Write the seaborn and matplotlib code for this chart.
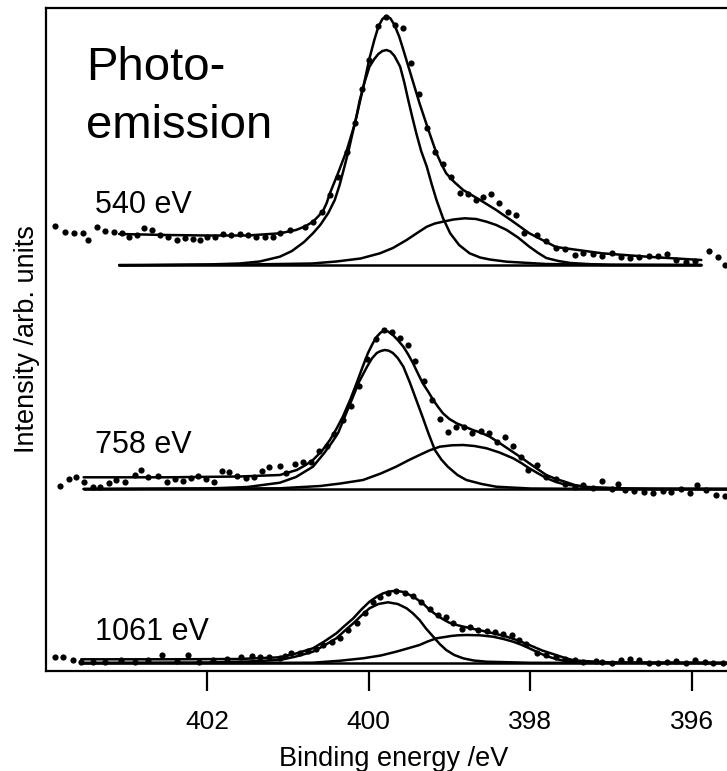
import matplotlib
matplotlib.use("Agg")
import matplotlib.pyplot as plt
import seaborn as sns

sns.set_style("white")
plt.rcParams['font.family'] = ['Liberation Sans', 'DejaVu Sans']
plt.rcParams['text.color'] = 'black'
plt.rcParams['axes.labelcolor'] = 'black'
plt.rcParams['xtick.color'] = 'black'

# ---------------- data (binding energy / eV, intensity / arb. units) -------------
tick_values = [402, 400, 398, 396]
tick_labels = ["402", "400", "398", "396"]
spectrum_labels = ["540 eV", "758 eV", "1061 eV"]

# --- 540 eV ---
top_dots_E = [403.88, 403.76, 403.65, 403.54, 403.48, 403.36, 403.26, 403.16, 403.06, 402.97,
              402.87, 402.78, 402.68, 402.59, 402.49, 402.38, 402.28, 402.18, 402.09, 402.00,
              401.90, 401.80, 401.70, 401.59, 401.50, 401.40, 401.29, 401.19, 401.10, 400.98,
              400.79, 400.69, 400.58, 400.48, 400.38, 400.27, 400.17, 400.08, 399.99, 399.88,
              399.78, 399.68, 399.57, 399.47, 399.38, 399.28, 399.18, 399.08, 398.98, 398.87,
              398.77, 398.67, 398.58, 398.48, 398.38, 398.27, 398.17, 398.07, 397.91, 397.80,
              397.68, 397.57, 397.45, 397.34, 397.22, 397.11, 396.99, 396.88, 396.76, 396.65,
              396.53, 396.42, 396.30, 396.19, 396.07, 395.96, 395.79, 395.67, 395.59]
top_dots_I = [445, 439.3, 438.3, 437.7, 431, 444.3, 440.3, 438.7, 437.7, 433.7,
              435.7, 442.7, 441, 436, 433.7, 431, 432.7, 431.7, 431, 433.7,
              434.3, 437, 436, 436.7, 436, 434.3, 433.7, 433.7, 437.7, 441,
              444.3, 449.3, 459.3, 476, 494.3, 519.3, 547.7, 581.7, 611, 645,
              654.3, 646, 642.7, 608.3, 576.7, 542.7, 519.3, 507, 494.3, 478.3,
              476.7, 471, 474.3, 477, 467.7, 459.3, 456, 437.7, 436, 430.3,
              422.7, 421.7, 416, 417.7, 417, 415, 418.3, 414.3, 412.7, 414.3,
              415, 415, 417, 411, 409.3, 410.3, 420.3, 414.3, 406]
top_env_E = [403.09, 402.5, 402.0, 401.5, 401.1, 400.9, 400.79, 400.69, 400.62, 400.56,
             400.52, 400.48, 400.38, 400.27, 400.17, 400.07, 399.99, 399.93, 399.88, 399.83,
             399.78, 399.73, 399.68, 399.62, 399.57, 399.47, 399.37, 399.26, 399.16, 399.10,
             399.04, 398.94, 398.83, 398.62, 398.42, 398.21, 398.01, 397.68, 397.11, 396.5,
             395.88]
top_env_I = [437, 436, 435.5, 435.5, 437.7, 441, 444.5, 449.3, 455, 461,
             468, 477.7, 497.7, 521, 547.7, 582.7, 612.7, 631, 644.3, 652,
             655, 652.5, 646, 634, 621, 594.3, 567.7, 541, 517.7, 507,
             497.7, 489, 481, 471, 461, 449.3, 437.7, 424, 417.7, 414,
             411]
top_main_E = [403.09, 402.5, 402.0, 401.6, 401.35, 401.10, 400.95, 400.80, 400.69, 400.60,
              400.50, 400.42, 400.36, 400.30, 400.25, 400.20, 400.15, 400.11, 400.05, 399.99,
              399.93, 399.88, 399.83, 399.78, 399.73, 399.68, 399.61, 399.56, 399.51, 399.46,
              399.41, 399.35, 399.28, 399.22, 399.16, 399.08, 398.99, 398.88, 398.75, 398.62,
              398.50, 398.29, 397.8, 397.0, 395.88]
top_main_I = [405.5, 406, 406.5, 407.5, 409.5, 414.3, 420, 429, 437.7, 446,
              458, 471, 486, 504.3, 520, 537.7, 555, 571, 589, 604.3,
              612, 617, 620, 621, 619.5, 615, 604.3, 589, 571, 554,
              537.7, 520, 504.3, 487, 471, 453, 437.7, 426, 417.7, 413.5,
              411.5, 409.3, 407, 406, 406]
top_sec_E = [403.09, 401.5, 400.7, 400.4, 400.1, 399.86, 399.7, 399.53, 399.4, 399.28,
             399.18, 399.08, 398.95, 398.81, 398.67, 398.54, 398.42, 398.29, 398.15, 398.01,
             397.9, 397.8, 397.65, 397.5, 397.25, 397.0, 395.88]
top_sec_I = [406, 406.5, 407.5, 409.5, 412.5, 417.7, 423, 431, 438, 444.3,
             447.5, 449.3, 451.5, 452.7, 452, 449.3, 446, 441, 433.5, 424.3,
             418, 413, 410, 408, 406.8, 406.3, 406]
top_base_E = [403.09, 395.88]
top_base_I = [406, 406]

# --- 758 eV ---
mid_dots_E = [403.82, 403.71, 403.62, 403.53, 403.42, 403.33, 403.22, 403.13, 403.02, 402.90,
              402.82, 402.73, 402.61, 402.50, 402.40, 402.30, 402.20, 402.11, 402.01, 401.91,
              401.82, 401.73, 401.63, 401.52, 401.42, 401.32, 401.23, 401.10, 401.02, 400.91,
              400.81, 400.71, 400.61, 400.52, 400.43, 400.32, 400.22, 400.12, 400.02, 399.91,
              399.81, 399.71, 399.61, 399.51, 399.42, 399.32, 399.21, 399.12, 399.02, 398.92,
              398.82, 398.72, 398.61, 398.51, 398.41, 398.31, 398.21, 398.11, 398.03, 397.91,
              397.80, 397.68, 397.57, 397.45, 397.34, 397.22, 397.11, 396.99, 396.91, 396.82,
              396.71, 396.59, 396.48, 396.36, 396.25, 396.13, 396.02, 395.93, 395.82, 395.70,
              395.59]
mid_dots_I = [185, 191.7, 193.7, 189.3, 183.7, 183.7, 188.3, 191, 189.3, 196,
              201, 194.3, 195, 189.3, 191.7, 190.3, 192.7, 195, 191.7, 189.3,
              200.3, 199.3, 195, 192.7, 194.3, 200.3, 204.3, 205.3, 198.3, 206.7,
              208.7, 208.7, 220.3, 225, 237, 251, 265, 285, 311.7, 331.7,
              341, 338.7, 332.7, 326, 310, 290, 271, 252, 239.3, 244.3,
              243.7, 237.7, 240.3, 238.3, 229.3, 234.3, 225.3, 214.3, 201, 206,
              193.7, 191.7, 187, 183.7, 186, 182.7, 190, 181.7, 187, 181,
              180.3, 179, 177.7, 180.3, 179, 181.7, 177.7, 186, 181, 176,
              175]
mid_env_E = [403.53, 402.5, 401.6, 401.1, 400.89, 400.79, 400.69, 400.58, 400.48, 400.40,
             400.32, 400.23, 400.15, 400.08, 400.01, 399.95, 399.90, 399.85, 399.81, 399.76,
             399.70, 399.64, 399.57, 399.51, 399.45, 399.39, 399.33, 399.26, 399.20, 399.14,
             399.08, 399.00, 398.91, 398.81, 398.71, 398.60, 398.50, 398.38, 398.25, 398.13,
             398.01, 397.90, 397.80, 397.68, 397.57, 397.45, 397.3, 396.8, 395.4]
mid_env_I = [193.7, 193.7, 194.5, 196, 201, 205.5, 211, 220, 231, 242,
             254.3, 271, 287.7, 303, 317.7, 327.5, 334.3, 338.5, 340.3, 339.5,
             336, 331, 324.3, 316.5, 307.7, 297.5, 287.7, 279, 271, 264,
             257.7, 252, 247.7, 244.3, 241, 238, 234.3, 228, 221, 214.5,
             207.7, 201.5, 196, 192, 189.3, 186, 184, 182.5, 182]
mid_main_E = [403.53, 402.0, 401.5, 401.1, 400.9, 400.69, 400.55, 400.46, 400.38, 400.30,
              400.21, 400.12, 400.02, 399.96, 399.90, 399.85, 399.80, 399.75, 399.70, 399.64,
              399.57, 399.49, 399.41, 399.33, 399.26, 399.18, 399.10, 399.02, 398.90, 398.79,
              398.60, 398.42, 398.0, 397.0, 395.4]
mid_main_I = [182, 182.5, 184, 188.3, 194, 204.3, 218, 228, 237.7, 253.5,
              271, 289, 304.3, 312.5, 318, 320, 321, 320.3, 318, 313,
              304.3, 288.5, 271, 253.5, 237.7, 221, 211.5, 204.3, 196, 191,
              187, 184.3, 182.5, 182, 182]
mid_sec_E = [403.53, 401.1, 400.6, 400.35, 400.07, 399.85, 399.66, 399.5, 399.37, 399.25,
             399.12, 398.97, 398.83, 398.69, 398.54, 398.38, 398.21, 398.11, 398.01, 397.9,
             397.8, 397.68, 397.57, 397.2, 396.5, 395.4]
mid_sec_I = [182, 182.7, 185, 187.5, 191, 197.5, 204.3, 211, 216, 220.5,
             224.3, 225.7, 226, 225, 222.7, 218.5, 212.7, 208, 202.7, 197.5,
             193, 189, 186.5, 183, 182, 182]
mid_base_E = [403.53, 395.4]
mid_base_I = [182, 182]

# --- 1061 eV ---
bot_dots_E = [403.88, 403.79, 403.66, 403.56, 403.42, 403.27, 403.07, 402.90, 402.73, 402.56,
              402.38, 402.24, 402.10, 401.93, 401.75, 401.58, 401.44, 401.35, 401.24, 401.10,
              401.04, 400.96, 400.85, 400.75, 400.65, 400.56, 400.45, 400.35, 400.25, 400.15,
              400.05, 399.95, 399.86, 399.76, 399.66, 399.55, 399.45, 399.35, 399.24, 399.14,
              399.04, 398.95, 398.85, 398.75, 398.65, 398.54, 398.44, 398.34, 398.23, 398.14,
              398.05, 397.91, 397.80, 397.68, 397.57, 397.45, 397.34, 397.19, 397.11, 396.99,
              396.88, 396.76, 396.65, 396.53, 396.42, 396.30, 396.19, 396.07, 395.96, 395.84,
              395.73, 395.61]
bot_dots_I = [14.3, 13.7, 11, 9.3, 9.3, 9.3, 11, 9.3, 11, 16,
              10.3, 16, 9.3, 11, 11.7, 13.7, 15, 14.3, 14.3, 12.7,
              15, 17.7, 18.3, 20, 21.7, 26, 29.3, 32.7, 41, 48.3,
              57.7, 69.3, 74.3, 78.3, 80.3, 78.3, 75, 68.7, 61.7, 56,
              54.3, 48.3, 41.7, 43.7, 41, 40, 39.3, 37, 36, 31,
              27, 17.7, 16, 14.3, 11.7, 11, 9.3, 10.3, 9.3, 8.3,
              11, 11.7, 11, 7.7, 8.3, 9.3, 10.3, 8.3, 11, 9.3,
              7.7, 8.3]
bot_env_E = [403.56, 402.5, 401.6, 401.1, 400.9, 400.69, 400.55, 400.4, 400.3, 400.19,
             400.09, 399.99, 399.9, 399.82, 399.74, 399.66, 399.57, 399.49, 399.41, 399.33,
             399.25, 399.16, 399.08, 399.0, 398.9, 398.79, 398.67, 398.54, 398.42, 398.29,
             398.15, 398.01, 397.85, 397.68, 397.56, 397.45, 397.0, 395.4]
bot_env_I = [11.7, 11.7, 12, 13.7, 17.5, 22.7, 29.5, 37.7, 45, 52.7,
             61.5, 69.3, 74.3, 77.7, 79.5, 80.3, 79, 76, 72.3, 67.7,
             61.5, 56, 51.8, 48.3, 45.8, 43.7, 41.5, 39.3, 37, 34.3,
             30.5, 26, 20.5, 16, 12.8, 10.5, 8.5, 8]
bot_main_E = [403.56, 402.0, 401.5, 401.1, 400.9, 400.69, 400.55, 400.4, 400.3, 400.19,
              400.09, 399.99, 399.88, 399.76, 399.64, 399.53, 399.45, 399.37, 399.29, 399.2,
              399.12, 399.04, 398.94, 398.83, 398.7, 398.54, 398.0, 395.4]
bot_main_I = [8, 8.5, 9.5, 11, 14.5, 19.3, 25.5, 32.7, 40, 47.7,
              55.5, 62.7, 67, 68.7, 67, 62.7, 57.5, 51, 42.5, 34.3,
              27, 21, 16, 12.7, 10.5, 9.3, 8.2, 8]
bot_sec_E = [403.56, 401.5, 400.69, 400.35, 400.07, 399.85, 399.66, 399.52, 399.37, 399.27,
             399.16, 398.98, 398.89, 398.79, 398.62, 398.46, 398.33, 398.21, 398.11, 398.01,
             397.9, 397.8, 397.68, 397.57, 397.2, 395.4]
bot_sec_I = [8, 8, 8.3, 10.3, 12.7, 15.5, 19.3, 22.5, 26, 29.5,
             32.7, 35, 35.7, 36, 35.7, 34.3, 32, 29.3, 26.3, 22.7,
             18.5, 15, 12, 10, 8.3, 8]
bot_base_E = [403.56, 395.4]
bot_base_I = [8, 8]

# ---------------- figure -------------------------------------------------------
W, H = 727, 771
fig = plt.figure(figsize=(W / 100, H / 100), dpi=100)
ax_left, ax_right, ax_top, ax_bot = 45.7, 732.0, 8.0, 671.0
ax = fig.add_axes([ax_left / W, (H - ax_bot) / H, (ax_right - ax_left) / W, (ax_bot - ax_top) / H])

line_kw = dict(color="black", linewidth=1.8, sort=False, estimator=None, ax=ax, legend=False)
curves = [
    (top_env_E, top_env_I), (top_main_E, top_main_I), (top_sec_E, top_sec_I), (top_base_E, top_base_I),
    (mid_env_E, mid_env_I), (mid_main_E, mid_main_I), (mid_sec_E, mid_sec_I), (mid_base_E, mid_base_I),
    (bot_env_E, bot_env_I), (bot_main_E, bot_main_I), (bot_sec_E, bot_sec_I), (bot_base_E, bot_base_I),
]
for xs, ys in curves:
    sns.lineplot(x=xs, y=ys, **line_kw)

for xs, ys in [(top_dots_E, top_dots_I), (mid_dots_E, mid_dots_I), (bot_dots_E, bot_dots_I)]:
    sns.scatterplot(x=xs, y=ys, color="black", s=20, linewidth=0, ax=ax, legend=False, zorder=3)

ax.set_xlim(404, 395.5)
ax.set_ylim(0, 663)
ax.set_xticks(tick_values)
ax.set_xticklabels(tick_labels)
ax.set_yticks([])
ax.tick_params(axis="x", direction="out", length=14.4, width=1.6, pad=14, labelsize=19,
               colors="black", bottom=True)
for side in ["left", "bottom", "top", "right"]:
    ax.spines[side].set_visible(True)
    ax.spines[side].set_linewidth(1.6)
    ax.spines[side].set_color("black")

ax.set_xlabel("Binding energy /eV", fontsize=19.5, color="black")
ax.xaxis.set_label_coords(0.5068, -0.113)
ax.set_ylabel("Intensity /arb. units", fontsize=19.5, color="black")
ax.yaxis.set_label_coords(-0.009, 0.5)

ax.text(403.50, 591, "Photo-", fontsize=34, va="baseline", ha="left", color="black")
ax.text(403.50, 533, "emission", fontsize=34, va="baseline", ha="left", color="black")
for lab, yb in zip(spectrum_labels, [458, 218, 31]):
    ax.text(403.39, yb, lab, fontsize=22, va="baseline", ha="left", color="black")

fig.savefig("out.png", dpi=100)
